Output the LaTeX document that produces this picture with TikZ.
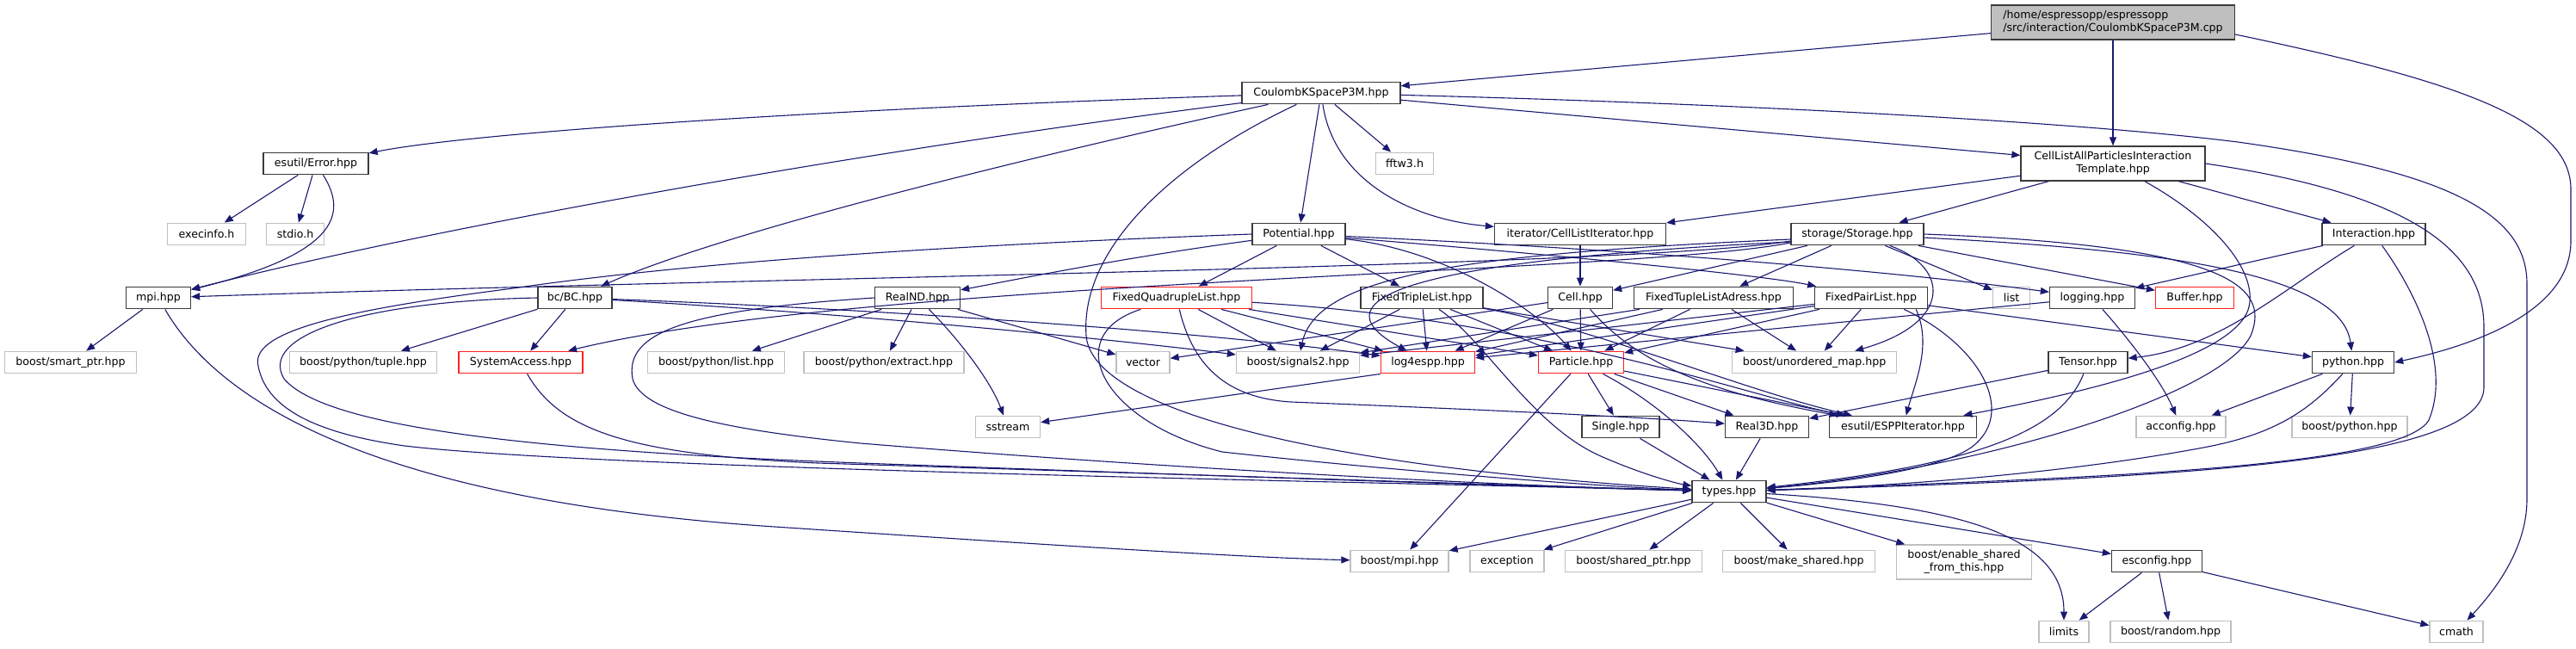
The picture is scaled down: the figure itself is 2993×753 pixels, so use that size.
\documentclass[tikz,border=0pt]{standalone}
\usepackage{fontspec}
\setmainfont{DejaVu Sans}
\usetikzlibrary{arrows.meta}
\definecolor{edgecol}{HTML}{191970}
\definecolor{nodeborder}{HTML}{3A3A3A}
\definecolor{extborder}{HTML}{BFBFBF}
\definecolor{truncborder}{HTML}{FF2020}
\definecolor{mainfill}{HTML}{BFBFBF}
\newcommand{\nodefont}{\fontsize{12.6}{15}\selectfont}
\tikzset{
  box/.style={draw=nodeborder, fill=white, line width=1.3pt, minimum height=25.5pt, inner sep=0pt, font=\nodefont, text=black},
  ext/.style={box, draw=extborder},
  trunc/.style={box, draw=truncborder},
  conn/.style={draw=edgecol, line width=1.1pt, -{Triangle[length=10pt,width=8pt]}},
}
\begin{document}
\begin{tikzpicture}[x=1pt,y=-1pt]
\useasboundingbox (0,0) rectangle (2993,753);
% row 1
\node[box, fill=mainfill, minimum width=283pt, minimum height=40pt, align=left] (main) at (2455,26) {/home/espressopp/espressopp\\/src/interaction/CoulombKSpaceP3M.cpp};
% row 2
\node[box, minimum width=184pt] (coul) at (1535,108) {CoulombKSpaceP3M.hpp};
% row 3
\node[box, minimum width=122pt] (err) at (367,190) {esutil/Error.hpp};
\node[ext, minimum width=67pt] (fftw) at (1632,190) {fftw3.h};
\node[box, minimum width=214pt, minimum height=40pt, align=center] (cla) at (2455,190) {CellListAllParticlesInteraction\\Template.hpp};
% row 4
\node[ext, minimum width=91pt] (execinfo) at (240,272) {execinfo.h};
\node[ext, minimum width=67pt] (stdio) at (343,272) {stdio.h};
\node[box, minimum width=108pt] (pot) at (1509,272) {Potential.hpp};
\node[box, minimum width=199pt] (cli) at (1836,272) {iterator/CellListIterator.hpp};
\node[box, minimum width=154pt] (stor) at (2158,272) {storage/Storage.hpp};
\node[box, minimum width=120pt] (inter) at (2758,272) {Interaction.hpp};
% row 5
\node[box, minimum width=75pt] (mpi) at (184,346) {mpi.hpp};
\node[box, minimum width=86pt] (bc) at (668,346) {bc/BC.hpp};
\node[box, minimum width=99pt] (realnd) at (1066,346) {RealND.hpp};
\node[trunc, minimum width=175pt] (fquad) at (1367,346) {FixedQuadrupleList.hpp};
\node[box, minimum width=142pt] (ftriple) at (1652,346) {FixedTripleList.hpp};
\node[box, minimum width=75pt] (cell) at (1836,346) {Cell.hpp};
\node[box, minimum width=185pt] (ftla) at (1991,346) {FixedTupleListAdress.hpp};
\node[box, minimum width=131pt] (fpair) at (2174,346) {FixedPairList.hpp};
\node[ext, minimum width=43pt] (list) at (2337,346) {list};
\node[box, minimum width=99pt] (logging) at (2431,346) {logging.hpp};
\node[trunc, minimum width=91pt] (buffer) at (2550,346) {Buffer.hpp};
% row 6
\node[ext, minimum width=153pt] (smartptr) at (82,421) {boost/smart\_ptr.hpp};
\node[ext, minimum width=171pt] (tuple) at (422,421) {boost/python/tuple.hpp};
\node[trunc, minimum width=144pt] (sysacc) at (605,421) {SystemAccess.hpp};
\node[ext, minimum width=159pt] (pylist) at (832,421) {boost/python/list.hpp};
\node[ext, minimum width=186pt] (extract) at (1027,421) {boost/python/extract.hpp};
\node[ext, minimum width=62pt] (vector) at (1328,421) {vector};
\node[ext, minimum width=143pt] (signals) at (1508,421) {boost/signals2.hpp};
\node[trunc, minimum width=109pt] (logfour) at (1659,421) {log4espp.hpp};
\node[trunc, minimum width=99pt] (particle) at (1837,421) {Particle.hpp};
\node[ext, minimum width=191pt] (umap) at (2108,421) {boost/unordered\_map.hpp};
\node[box, minimum width=92pt] (tensor) at (2426,421) {Tensor.hpp};
\node[box, minimum width=95pt] (python) at (2734,421) {python.hpp};
% row 7
\node[ext, minimum width=75pt] (sstream) at (1171,496) {sstream};
\node[box, minimum width=90pt] (single) at (1883,496) {Single.hpp};
\node[box, minimum width=97pt] (realthree) at (2053,496) {Real3D.hpp};
\node[box, minimum width=171pt] (esppit) at (2211,496) {esutil/ESPPIterator.hpp};
\node[ext, minimum width=104pt] (acconfig) at (2534,496) {acconfig.hpp};
\node[ext, minimum width=134pt] (boostpy) at (2730,496) {boost/python.hpp};
% row 8
\node[box, minimum width=86pt] (types) at (2009,571) {types.hpp};
% row 9
\node[ext, minimum width=114pt] (bmpi) at (1626,652) {boost/mpi.hpp};
\node[ext, minimum width=86pt] (exception) at (1751,652) {exception};
\node[ext, minimum width=159pt] (sharedptr) at (1898,652) {boost/shared\_ptr.hpp};
\node[ext, minimum width=177pt] (makeshared) at (2090,652) {boost/make\_shared.hpp};
\node[ext, minimum width=157pt, minimum height=40pt, align=center] (enableshared) at (2282,653) {boost/enable\_shared\\\_from\_this.hpp};
\node[box, minimum width=105pt] (esconfig) at (2506,652) {esconfig.hpp};
% row 10
\node[ext, minimum width=58pt] (limits) at (2398,734) {limits};
\node[ext, minimum width=140pt] (random) at (2522,734) {boost/random.hpp};
\node[ext, minimum width=62pt] (cmath) at (2854,734) {cmath};

% ---------- edges ----------
% main file
\draw[conn] (main) -- (coul);
\draw[conn] (main) -- (cla);
\draw[conn] ([yshift=-14pt]main.east) .. controls (2860,95) and (2987,140) .. (2987,220) -- (2987,280) .. controls (2987,360) and (2880,400) .. (python.east);
% CoulombKSpaceP3M.hpp
\draw[conn] (coul) .. controls (1000,125) and (560,152) .. (err);
\draw[conn] (coul) .. controls (1000,175) and (500,265) .. (mpi);
\draw[conn] (coul) .. controls (1250,170) and (850,265) .. (bc);
\draw[conn] (coul) -- (pot);
\draw[conn] (coul) -- (fftw);
\draw[conn] (coul) .. controls (1550,210) and (1640,255) .. (cli);
\draw[conn] (coul) -- (cla);
\draw[conn] (coul) .. controls (2000,120) and (2400,140) .. (2600,165) .. controls (2850,200) and (2936,250) .. (2936,330) -- (2936,580) .. controls (2936,640) and (2895,690) .. (cmath);
\draw[conn] (coul) .. controls (1360,190) and (1255,290) .. (1262,390) .. controls (1268,470) and (1500,540) .. (types);
% esutil/Error.hpp
\draw[conn] (err) -- (execinfo);
\draw[conn] (err) -- (stdio);
\draw[conn] (err) .. controls (405,250) and (390,295) .. (mpi);
% mpi.hpp
\draw[conn] (mpi) -- (smartptr);
\draw[conn] (mpi) .. controls (250,460) and (420,580) .. (900,612) .. controls (1200,632) and (1450,648) .. (bmpi);
% bc/BC.hpp
\draw[conn] (bc) -- (tuple);
\draw[conn] (bc) -- (sysacc);
\draw[conn] (bc.west) .. controls (420,350) and (300,390) .. (330,440) .. controls (380,500) and (650,525) .. (1000,538) .. controls (1500,556) and (1800,566) .. (types);
\draw[conn] (bc) .. controls (1000,358) and (1400,385) .. (logfour);
\draw[conn] (bc) .. controls (1000,365) and (1300,395) .. (signals);
% SystemAccess
\draw[conn] (sysacc) .. controls (650,500) and (730,528) .. (950,538) .. controls (1400,552) and (1800,565) .. (types);
% Potential.hpp
\draw[conn] (pot.west) .. controls (1100,285) and (800,305) .. (596,335) .. controls (400,360) and (290,385) .. (300,425) .. controls (310,480) and (380,505) .. (470,518) .. controls (700,545) and (1600,560) .. (types);
\draw[conn] (pot) .. controls (1300,300) and (1180,325) .. (realnd);
\draw[conn] (pot) -- (fquad);
\draw[conn] (pot) -- (ftriple);
\draw[conn] (pot) .. controls (1680,290) and (1785,360) .. (particle);
\draw[conn] (pot) .. controls (1800,295) and (2050,320) .. (fpair);
\draw[conn] (pot) .. controls (1900,290) and (2200,315) .. (logging);
% iterator
\draw[conn] (cli) -- (cell);
% storage
\draw[conn] (stor) -- (cell);
\draw[conn] (stor) -- (ftla);
\draw[conn] (stor) -- (list);
\draw[conn] (stor) -- (buffer);
\draw[conn] (stor) .. controls (2500,290) and (2720,315) .. (python);
\draw[conn] (stor.east) .. controls (2580,285) and (2640,330) .. (2615,390) .. controls (2580,460) and (2300,545) .. (types);
\draw[conn] (stor) .. controls (2265,310) and (2270,375) .. (umap);
\draw[conn] ([yshift=-8pt]stor.west) .. controls (1900,310) and (900,322) .. (mpi);
\draw[conn] ([yshift=-10pt]stor.west) .. controls (1900,318) and (1000,325) .. (sysacc);
\draw[conn] ([yshift=-6pt]stor.west) .. controls (1700,295) and (1530,320) .. (signals);
\draw[conn] ([yshift=-9pt]stor.west) .. controls (1650,302) and (1520,345) .. (logfour);
% CellListAll
\draw[conn] (cla) -- (cli);
\draw[conn] (cla) -- (stor);
\draw[conn] (cla) -- (inter);
\draw[conn] (cla.east) .. controls (2800,225) and (2886,290) .. (2886,380) -- (2886,450) .. controls (2886,540) and (2500,556) .. (types);
\draw[conn] (cla) .. controls (2580,260) and (2625,320) .. (2612,360) .. controls (2590,420) and (2400,460) .. (esppit);
% Interaction
\draw[conn] (inter) -- (logging);
\draw[conn] (inter) .. controls (2660,330) and (2580,405) .. (tensor);
\draw[conn] (inter) .. controls (2800,330) and (2850,420) .. (2822,488) .. controls (2790,545) and (2400,556) .. (types);
% python
\draw[conn] (python) -- (acconfig);
\draw[conn] (python) -- (boostpy);
\draw[conn] (python) .. controls (2680,480) and (2640,505) .. (2560,520) .. controls (2400,550) and (2200,565) .. (types);
% Tensor
\draw[conn] (tensor) .. controls (2395,500) and (2300,540) .. (types);
\draw[conn] (tensor) -- (realthree);
% logging
\draw[conn] (logging) .. controls (2470,390) and (2510,440) .. (acconfig);
\draw[conn] (logging) -- (logfour);
% log4espp
\draw[conn] (logfour.south west) -- (sstream);
% Particle
\draw[conn] (particle) -- (bmpi);
\draw[conn] (particle) -- (single);
\draw[conn] (particle) -- (realthree);
\draw[conn] (particle) -- (esppit);
\draw[conn] (particle) .. controls (1930,470) and (1980,520) .. (types);
\draw[conn] (single) -- (types);
\draw[conn] (realthree) -- (types);
% FixedQuadrupleList
\draw[conn] (fquad) -- (signals);
\draw[conn] (fquad) -- (logfour);
\draw[conn] (fquad) -- (particle);
\draw[conn] (fquad) .. controls (1800,372) and (2030,460) .. (esppit);
\draw[conn] (fquad) .. controls (1385,420) and (1420,462) .. (1500,467) .. controls (1700,475) and (1900,484) .. (realthree);
\draw[conn] (fquad) .. controls (1230,390) and (1280,490) .. (1420,525) .. controls (1600,545) and (1850,565) .. (types);
% FixedTripleList
\draw[conn] (ftriple) -- (signals);
\draw[conn] (ftriple) -- (logfour);
\draw[conn] (ftriple) -- (particle);
\draw[conn] (ftriple) .. controls (1850,380) and (2030,455) .. (esppit);
\draw[conn] (ftriple) -- (umap);
\draw[conn] (ftriple) .. controls (1725,395) and (1780,495) .. (1860,530) .. controls (1910,552) and (1950,562) .. (types);
% Cell
\draw[conn] (cell) -- (particle);
\draw[conn] (cell) .. controls (1900,420) and (1980,455) .. (esppit);
\draw[conn] (cell) -- (logfour);
\draw[conn] (cell) -- (vector);
% FixedTupleListAdress
\draw[conn] (ftla) -- (particle);
\draw[conn] (ftla) -- (umap);
\draw[conn] (ftla) -- (logfour);
\draw[conn] (ftla) -- (signals);
% FixedPairList
\draw[conn] (fpair) -- (particle);
\draw[conn] (fpair) -- (umap);
\draw[conn] (fpair) -- (logfour);
\draw[conn] (fpair) -- (signals);
\draw[conn] (fpair) -- (python);
\draw[conn] ([xshift=-14pt]fpair.south east) .. controls (2245,400) and (2225,445) .. (esppit);
\draw[conn] ([xshift=-28pt]fpair.south east) .. controls (2300,400) and (2345,480) .. (2290,520) .. controls (2250,548) and (2120,562) .. (types);
% RealND
\draw[conn] (realnd) -- (pylist);
\draw[conn] (realnd) -- (extract);
\draw[conn] (realnd) -- (vector);
\draw[conn] (realnd) .. controls (1110,390) and (1150,440) .. (sstream);
\draw[conn] (realnd.west) .. controls (800,360) and (725,385) .. (735,440) .. controls (745,480) and (850,500) .. (1000,515) .. controls (1400,548) and (1800,566) .. (types);
% types.hpp
\draw[conn] (types) -- (bmpi);
\draw[conn] (types) -- (exception);
\draw[conn] (types) -- (sharedptr);
\draw[conn] (types) -- (makeshared);
\draw[conn] (types) -- (enableshared);
\draw[conn] (types) -- (esconfig);
\draw[conn] (types) .. controls (2300,588) and (2398,630) .. (limits);
% esconfig
\draw[conn] (esconfig) -- (limits);
\draw[conn] (esconfig) -- (random);
\draw[conn] (esconfig) -- (cmath);
\end{tikzpicture}
\end{document}
